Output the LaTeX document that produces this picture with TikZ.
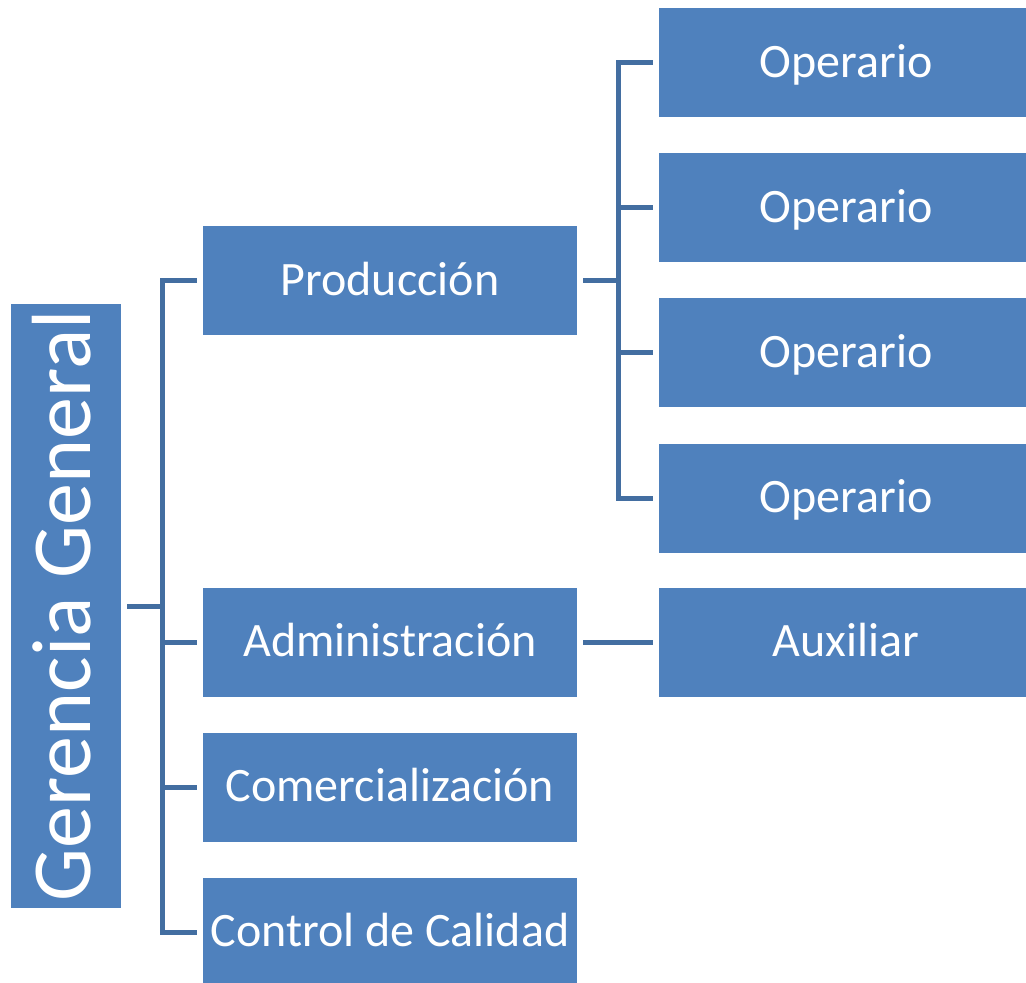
\documentclass[tikz,border=0pt]{standalone}
\usepackage{fontspec}
\setmainfont{Carlito}
\usetikzlibrary{positioning, calc}
\definecolor{BoxBlue}{HTML}{4F81BD}
\definecolor{LineBlue}{HTML}{436EA1}

\begin{document}
\begin{tikzpicture}[
    box/.style={fill=BoxBlue, text=white, inner sep=0pt, outer xsep=3pt, outer ysep=0pt,
                minimum width=187pt, minimum height=54.5pt,
                font=\fontsize{24}{29}\selectfont, text height=17pt, text depth=2.5pt},
    rootbox/.style={fill=BoxBlue, text=white, inner sep=0pt, outer xsep=3pt, outer ysep=0pt,
                minimum width=55pt, minimum height=302pt,
                font=\fontsize{42}{50}\selectfont},
    link/.style={draw=LineBlue, line width=2.5pt}]
  \useasboundingbox (0,0) rectangle (513pt,-491.5pt);
  \node[rootbox] (gg) at (33pt,-303pt)
    {\rotatebox{90}{\rule[-5pt]{0pt}{6pt}Gerencia General}};
  \node[box] (prod) at (195pt,-140.5pt) {Producción};
  \node[box, below=126pt of prod] (adm) {Administración};
  \node[box, below=18pt of adm] (com) {Comercialización};
  \node[box, below=18pt of com] (cal) {Control de Calidad};
  \node[box] (op1) at (423pt,-31.5pt) {Operario};
  \node[box, below=18pt of op1] (op2) {Operario};
  \node[box, below=18pt of op2] (op3) {Operario};
  \node[box, below=18pt of op3] (op4) {Operario};
  \node[box, right=35pt of adm] (aux) {Auxiliar};
  % elbow connectors
  \coordinate (gg-spine) at ($(gg.east)!0.5!(gg.east -| prod.west)$);
  \draw[link] (gg) -- (gg-spine) |- (prod);
  \draw[link] (gg) -- (gg-spine) |- (adm);
  \draw[link] (gg) -- (gg-spine) |- (com);
  \draw[link] (gg) -- (gg-spine) |- (cal);
  \coordinate (prod-spine) at ($(prod.east)!0.5!(prod.east -| op1.west)$);
  \draw[link] (prod) -- (prod-spine) |- (op1);
  \draw[link] (prod) -- (prod-spine) |- (op2);
  \draw[link] (prod) -- (prod-spine) |- (op3);
  \draw[link] (prod) -- (prod-spine) |- (op4);
  \draw[link] (adm) -- (aux);
\end{tikzpicture}
\end{document}
